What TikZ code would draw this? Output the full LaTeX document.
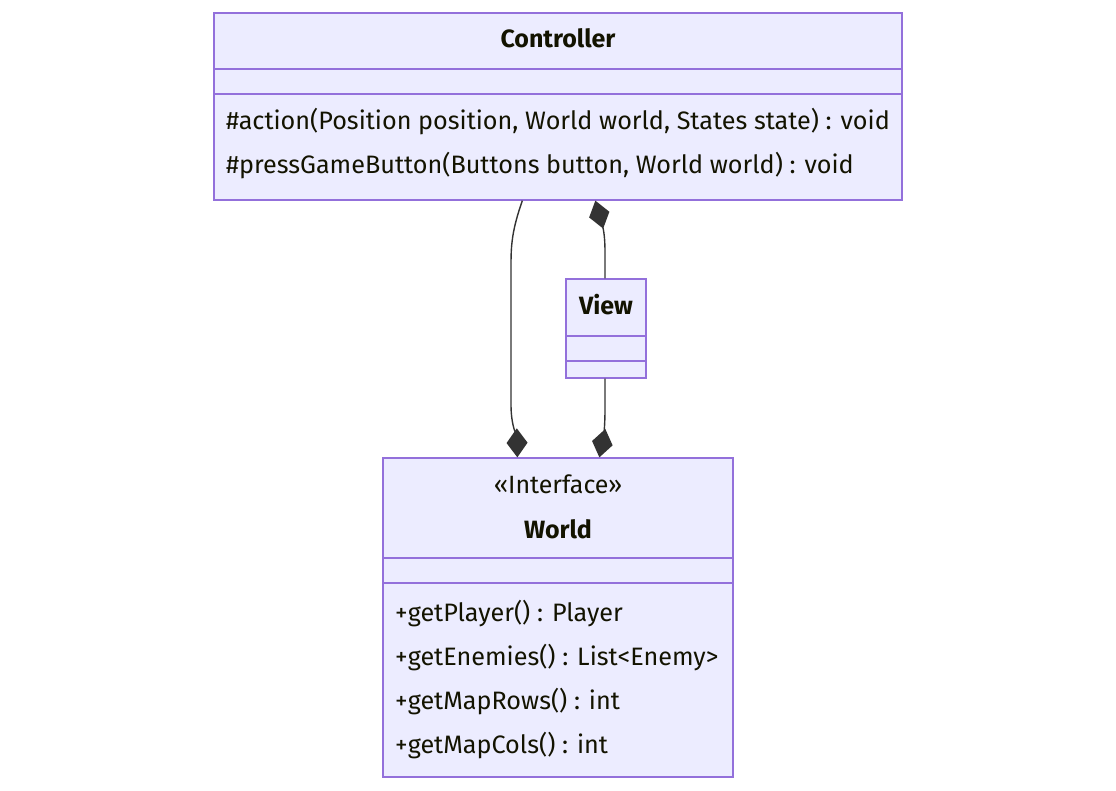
\documentclass[tikz,border=0pt]{standalone}
\usepackage{fontspec}
\setmainfont{Fira Sans}
\usetikzlibrary{arrows.meta,calc}
\definecolor{boxfill}{HTML}{ECECFF}
\definecolor{boxline}{HTML}{9370DB}
\definecolor{txt}{HTML}{131300}
\definecolor{conn}{HTML}{333333}
\tikzset{
  classbox/.style={draw=boxline, fill=boxfill, line width=1.3pt, inner sep=0pt},
  divider/.style={draw=boxline, line width=1.3pt},
  member/.style={anchor=base west, inner sep=0pt, text=txt, font=\fontsize{25.2}{30}\selectfont},
  title/.style={anchor=base, inner sep=0pt, text=txt, font=\fontsize{25}{30}\selectfont\bfseries},
  stereo/.style={anchor=base, inner sep=0pt, text=txt, font=\fontsize{25}{30}\selectfont},
  link/.style={draw=conn, line width=1.4pt},
  comp/.tip={Diamond[length=29pt,width=21pt,fill=conn,color=conn]}
}
\begin{document}
\begin{tikzpicture}[x=1pt,y=-1pt]
\useasboundingbox (0,0) rectangle (1116,791);
% Controller
\node[classbox, minimum width=688pt, minimum height=187pt] (ctrl) at (558,106.5) {};
\draw[divider] (ctrl.west |- 0,69) -- (ctrl.east |- 0,69);
\draw[divider] (ctrl.west |- 0,94) -- (ctrl.east |- 0,94);
\node[title] (ctrlname) at (558,48) {Controller};
\node[member] (m1) at (226,130) {\#action(Position position, World world, States state) : void};
\node[member] (m2) at (226,174) {\#pressGameButton(Buttons button, World world) : void};
% View
\node[classbox, minimum width=80pt, minimum height=99pt] (view) at (606,328.5) {};
\draw[divider] (view.west |- 0,336) -- (view.east |- 0,336);
\draw[divider] (view.west |- 0,361) -- (view.east |- 0,361);
\node[title] (viewname) at (606,315) {View};
% World
\node[classbox, minimum width=350pt, minimum height=319pt] (world) at (558,617.5) {};
\draw[divider] (world.west |- 0,558) -- (world.east |- 0,558);
\draw[divider] (world.west |- 0,583) -- (world.east |- 0,583);
\node[stereo] (wst) at (558,493) {«Interface»};
\node[title] (wname) at (558,538) {World};
\node[member] (w1) at (395,621) {+getPlayer() : Player};
\node[member] (w2) at (395,665) {+getEnemies() : List<Enemy>};
\node[member] (w3) at (395,709) {+getMapRows() : int};
\node[member] (w4) at (395,753) {+getMapCols() : int};
% connectors
\draw[link, -{comp}] ($(ctrl.south west)+(309,0)$) .. controls (512,230) and (511,245) .. (511,265)
   -- (511,405) .. controls (511,425) and (517,440) .. ($(world.north west)+(135,0)$);
\draw[link, {comp}-] ($(ctrl.south west)+(382,0)$) .. controls (603,228) and (605,235) .. (605,252)
   -- (view.north -| 605,0);
\draw[link, -{comp}] (view.south -| 605,0) -- (605,410) .. controls (605,428) and (603,440) .. ($(world.north west)+(217,0)$);
\end{tikzpicture}
\end{document}
